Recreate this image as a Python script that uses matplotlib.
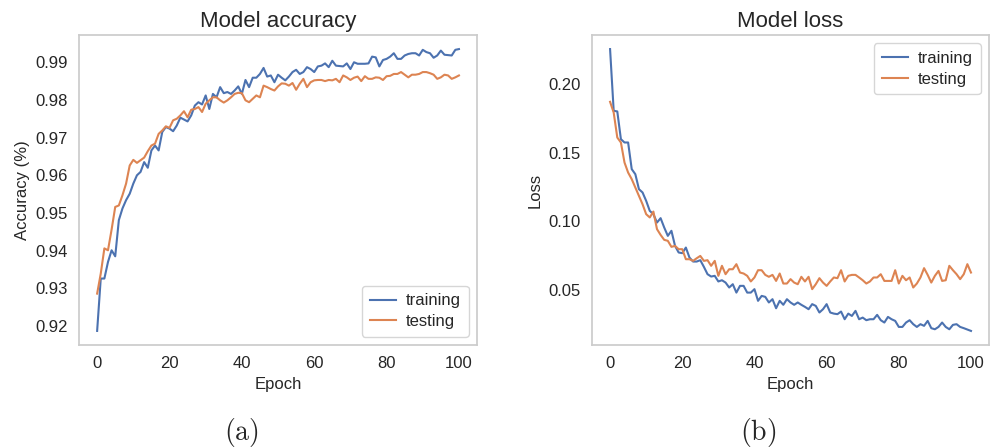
import matplotlib
matplotlib.use("Agg")
import matplotlib.pyplot as plt
import numpy as np

plt.rcParams['font.family'] = ['Liberation Sans', 'DejaVu Sans']
plt.rcParams['mathtext.fontset'] = 'cm'
plt.rcParams['text.color'] = '.15'
plt.rcParams['axes.labelcolor'] = '.15'
plt.rcParams['xtick.color'] = '.15'
plt.rcParams['ytick.color'] = '.15'

epochs = np.arange(101)

train_acc = [0.9187, 0.9326, 0.9326, 0.9370, 0.9401, 0.9385, 0.9481, 0.9512, 0.9534, 0.9551,
             0.9578, 0.9600, 0.9609, 0.9635, 0.9620, 0.9666, 0.9679, 0.9666, 0.9715, 0.9728,
             0.9724, 0.9717, 0.9732, 0.9753, 0.9748, 0.9743, 0.9759, 0.9785, 0.9794, 0.9788,
             0.9812, 0.9776, 0.9816, 0.9807, 0.9834, 0.9818, 0.9821, 0.9816, 0.9825, 0.9836,
             0.9816, 0.9853, 0.9834, 0.9859, 0.9859, 0.9869, 0.9885, 0.9862, 0.9865, 0.9847,
             0.9867, 0.9859, 0.9852, 0.9862, 0.9874, 0.9880, 0.9869, 0.9874, 0.9887, 0.9882,
             0.9874, 0.9889, 0.9891, 0.9897, 0.9887, 0.9904, 0.9891, 0.9890, 0.9889, 0.9897,
             0.9882, 0.9900, 0.9896, 0.9896, 0.9896, 0.9897, 0.9915, 0.9913, 0.9889, 0.9906,
             0.9909, 0.9915, 0.9924, 0.9909, 0.9909, 0.9918, 0.9922, 0.9924, 0.9924, 0.9918,
             0.9933, 0.9927, 0.9924, 0.9912, 0.9918, 0.9931, 0.9920, 0.9919, 0.9918, 0.9933,
             0.9935]

test_acc = [0.9286, 0.9339, 0.9406, 0.9401, 0.9456, 0.9516, 0.9520, 0.9547, 0.9578, 0.9626,
            0.9641, 0.9633, 0.9640, 0.9647, 0.9664, 0.9679, 0.9684, 0.9710, 0.9719, 0.9730,
            0.9726, 0.9746, 0.9750, 0.9759, 0.9770, 0.9754, 0.9774, 0.9776, 0.9781, 0.9768,
            0.9790, 0.9799, 0.9807, 0.9807, 0.9799, 0.9793, 0.9799, 0.9807, 0.9816, 0.9819,
            0.9818, 0.9799, 0.9794, 0.9803, 0.9812, 0.9807, 0.9838, 0.9834, 0.9829, 0.9825,
            0.9836, 0.9844, 0.9843, 0.9838, 0.9845, 0.9827, 0.9843, 0.9856, 0.9834, 0.9847,
            0.9852, 0.9853, 0.9853, 0.9850, 0.9853, 0.9852, 0.9856, 0.9847, 0.9865, 0.9860,
            0.9853, 0.9859, 0.9862, 0.9850, 0.9863, 0.9856, 0.9856, 0.9860, 0.9859, 0.9853,
            0.9863, 0.9864, 0.9869, 0.9869, 0.9874, 0.9867, 0.9860, 0.9867, 0.9867, 0.9869,
            0.9874, 0.9874, 0.9871, 0.9867, 0.9856, 0.9860, 0.9867, 0.9865, 0.9856, 0.9860,
            0.9865]

train_loss = [0.2255, 0.1806, 0.1801, 0.1599, 0.1575, 0.1575, 0.1381, 0.1344, 0.1235, 0.1211,
              0.1150, 0.1077, 0.1053, 0.0992, 0.1024, 0.0956, 0.0895, 0.0932, 0.0822, 0.0774,
              0.0769, 0.0810, 0.0737, 0.0708, 0.0708, 0.0718, 0.0669, 0.0616, 0.0599, 0.0604,
              0.0563, 0.0572, 0.0555, 0.0519, 0.0543, 0.0482, 0.0531, 0.0531, 0.0482, 0.0482,
              0.0507, 0.0422, 0.0458, 0.0451, 0.0410, 0.0434, 0.0368, 0.0422, 0.0393, 0.0434,
              0.0410, 0.0393, 0.0410, 0.0393, 0.0378, 0.0361, 0.0398, 0.0385, 0.0337, 0.0361,
              0.0398, 0.0337, 0.0329, 0.0325, 0.0344, 0.0288, 0.0329, 0.0312, 0.0349, 0.0288,
              0.0300, 0.0281, 0.0288, 0.0288, 0.0320, 0.0281, 0.0264, 0.0305, 0.0288, 0.0276,
              0.0232, 0.0232, 0.0264, 0.0281, 0.0252, 0.0232, 0.0252, 0.0240, 0.0276, 0.0223,
              0.0215, 0.0232, 0.0264, 0.0232, 0.0215, 0.0247, 0.0252, 0.0232, 0.0223, 0.0213,
              0.0203]

test_loss = [0.1871, 0.1793, 0.1611, 0.1575, 0.1429, 0.1356, 0.1308, 0.1247, 0.1186, 0.1125,
             0.1053, 0.1029, 0.1072, 0.0944, 0.0902, 0.0866, 0.0859, 0.0815, 0.0822, 0.0798,
             0.0798, 0.0725, 0.0725, 0.0713, 0.0732, 0.0749, 0.0713, 0.0718, 0.0677, 0.0713,
             0.0604, 0.0677, 0.0616, 0.0652, 0.0652, 0.0689, 0.0628, 0.0621, 0.0604, 0.0563,
             0.0592, 0.0645, 0.0645, 0.0611, 0.0597, 0.0611, 0.0567, 0.0621, 0.0548, 0.0548,
             0.0580, 0.0555, 0.0543, 0.0597, 0.0563, 0.0597, 0.0507, 0.0543, 0.0587, 0.0555,
             0.0531, 0.0563, 0.0592, 0.0587, 0.0645, 0.0563, 0.0604, 0.0611, 0.0611, 0.0592,
             0.0572, 0.0548, 0.0563, 0.0592, 0.0592, 0.0616, 0.0567, 0.0567, 0.0567, 0.0645,
             0.0548, 0.0604, 0.0572, 0.0592, 0.0519, 0.0548, 0.0592, 0.0660, 0.0611, 0.0555,
             0.0604, 0.0640, 0.0567, 0.0572, 0.0677, 0.0645, 0.0616, 0.0580, 0.0616, 0.0689,
             0.0628]

blue = '#4C72B0'
orange = '#DD8452'

fig = plt.figure(figsize=(9.93, 4.48), dpi=100)
ax1 = fig.add_axes([0.0796, 0.2299, 0.4008, 0.692])
ax2 = fig.add_axes([0.5962, 0.2299, 0.3998, 0.692])

panels = [
    (ax1, train_acc, test_acc, 'Model accuracy', 'Accuracy (%)', 'lower right'),
    (ax2, train_loss, test_loss, 'Model loss', 'Loss', 'upper right'),
]
for ax, tr, te, title, ylabel, loc in panels:
    ax.plot(epochs, tr, color=blue, lw=1.5, label='training')
    ax.plot(epochs, te, color=orange, lw=1.5, label='testing')
    ax.set_title(title, fontsize=16)
    ax.set_xlabel('Epoch', fontsize=12)
    ax.set_ylabel(ylabel, fontsize=12)
    ax.set_xticks([0, 20, 40, 60, 80, 100])
    ax.tick_params(length=0, pad=8, labelsize=12)
    for s in ax.spines.values():
        s.set_color('#cccccc')
        s.set_linewidth(1.25)
    leg = ax.legend(loc=loc, fontsize=12, frameon=True, fancybox=True,
                    handlelength=1.6, handletextpad=0.6, labelspacing=0.35,
                    borderpad=0.45)
    leg.get_frame().set_edgecolor('#cccccc')

ax1.set_yticks([0.92, 0.93, 0.94, 0.95, 0.96, 0.97, 0.98, 0.99])
ax2.set_yticks([0.05, 0.10, 0.15, 0.20])
ax2.set_yticklabels(['0.05', '0.10', '0.15', '0.20'])

fig.text(241 / 993, 16 / 448, r'$\mathrm{(a)}$', fontsize=20, ha='center', va='center')
fig.text(758 / 993, 16 / 448, r'$\mathrm{(b)}$', fontsize=20, ha='center', va='center')

fig.savefig('out.png', dpi=100)
